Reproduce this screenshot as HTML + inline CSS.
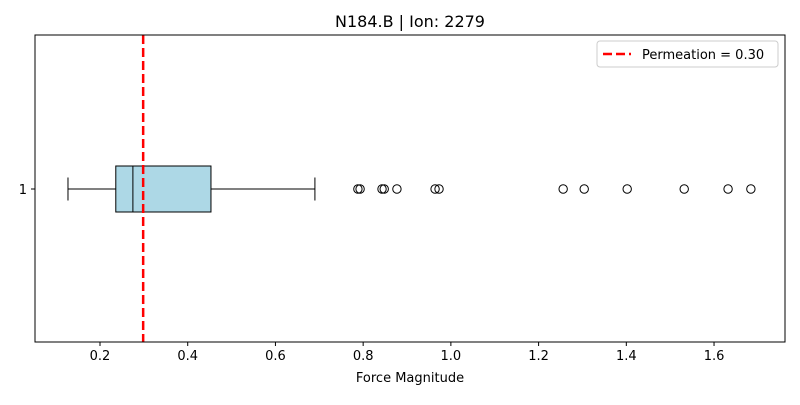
<!DOCTYPE html>
<html><head><meta charset="utf-8"><style>
body{margin:0;background:#fff;}
svg text{font-family:"DejaVu Sans","Liberation Sans",sans-serif;}
</style></head><body>
<svg width="800" height="400" xmlns="http://www.w3.org/2000/svg">
<g id="plot"></g>
</svg>
<script>
const title = "N184.B | Ion: 2279";
const xTicks = [0.2,0.4,0.6,0.8,1.0,1.2,1.4,1.6];
const xTickLabels = ["0.2","0.4","0.6","0.8","1.0","1.2","1.4","1.6"];
const boxStats = [0.127,0.236,0.275,0.453,0.690]; // whislo,q1,med,q3,whishi
const outliers = [0.788,0.793,0.843,0.848,0.877,0.964,0.973,1.256,1.304,1.402,1.532,1.632,1.684];
const permeation = [0.30];

const L=35,R=785,T=35,B=342, xmin=0.0518,xmax=1.7618;
const sx=v=>L+(v-xmin)/(xmax-xmin)*(R-L);
const cy=189, bh=46;
const NS="http://www.w3.org/2000/svg";
const g=document.getElementById('plot');
function mk(tag,attrs,parent){const e=document.createElementNS(NS,tag);for(const k in attrs)e.setAttribute(k,attrs[k]);(parent||g).appendChild(e);return e;}

let t=mk('text',{x:(L+R)/2,y:27,'text-anchor':'middle','font-size':16,fill:'#000'});t.textContent=title;



let w1=mk('line',{x1:sx(boxStats[0]),x2:sx(boxStats[1]),y1:cy,y2:cy,stroke:'#000','stroke-width':1});


let w2=mk('line',{x1:sx(boxStats[3]),x2:sx(boxStats[4]),y1:cy,y2:cy,stroke:'#000','stroke-width':1});


let c1=mk('line',{x1:sx(boxStats[0]),x2:sx(boxStats[0]),y1:cy-11.5,y2:cy+11.5,stroke:'#000'});


let c2=mk('line',{x1:sx(boxStats[4]),x2:sx(boxStats[4]),y1:cy-11.5,y2:cy+11.5,stroke:'#000'});


let box=mk('rect',{x:sx(boxStats[1]),y:cy-bh/2,width:sx(boxStats[3])-sx(boxStats[1]),height:bh,fill:'#add8e6',stroke:'#000'});


let med=mk('line',{x1:sx(boxStats[2]),x2:sx(boxStats[2]),y1:cy-bh/2,y2:cy+bh/2,stroke:'#000'});


outliers.forEach(v=>{
  const c=mk('circle',{cx:sx(v),cy:cy,r:4.2,fill:'none',stroke:'#000'});
  
  
});
let pl=mk('line',{x1:sx(permeation[0])-0.7,x2:sx(permeation[0])-0.7,y1:T,y2:B,stroke:'#ff0000','stroke-width':2.5,'stroke-dasharray':'9,4'});



let fr=mk('rect',{x:L,y:T,width:R-L,height:B-T,fill:'none',stroke:'#000','stroke-width':1});



xTicks.forEach((v,i)=>{
  const x=sx(v);
  const tk=mk('line',{x1:x,x2:x,y1:B,y2:B+4,stroke:'#000'});
  
  
  const tl=mk('text',{x:x,y:B+18,'text-anchor':'middle','font-size':13});
  tl.textContent=xTickLabels[i];
  
  
});
let yt=mk('line',{x1:L-4,x2:L,y1:cy,y2:cy,stroke:'#000'});


let ytl=mk('text',{x:L-8,y:cy+5,'text-anchor':'end','font-size':13});ytl.textContent="1";


let xl=mk('text',{x:(L+R)/2,y:382,'text-anchor':'middle','font-size':13});xl.textContent="Force Magnitude";



let lg=mk('g',{});


mk('rect',{x:597,y:41,width:181,height:26,rx:3,fill:'#fff',stroke:'#ccc'},lg);
mk('line',{x1:603,x2:631,y1:54,y2:54,stroke:'#ff0000','stroke-width':2.5,'stroke-dasharray':'9,4'},lg);
let lt=mk('text',{x:642,y:59,'font-size':13},lg);lt.textContent="Permeation = 0.30";
</script>
</body></html>
